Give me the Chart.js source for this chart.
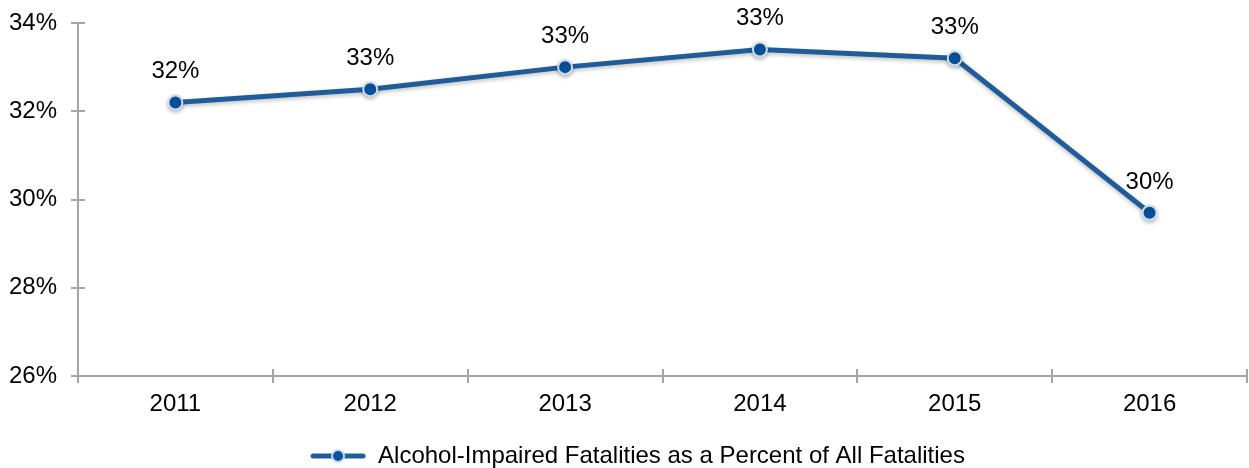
<!DOCTYPE html>
<html>
<head>
<meta charset="utf-8">
<script src="https://cdn.jsdelivr.net/npm/chart.js@4.4.0/dist/chart.umd.min.js"></script>
<style>
  html, body { margin: 0; padding: 0; background: #fff; }
  #wrap { width: 1249px; height: 468px; }
</style>
</head>
<body>
<div id="wrap"><canvas id="fatalitiesChart"></canvas></div>
<script>
const years = ['2011', '2012', '2013', '2014', '2015', '2016'];
const percentValues = [32.2, 32.5, 33.0, 33.4, 33.2, 29.7];
const yTicks = [26, 28, 30, 32, 34];
const seriesLabel = 'Alcohol-Impaired Fatalities as a Percent of All Fatalities';

const lineColor = '#1f5c99';
const pointColor = '#0b529c';
const pointEdge = '#c9ddf2';
const axisColor = '#a6a6a6';
const fontSize = 24;

Chart.defaults.font.family = '"Liberation Sans", Arial, sans-serif';
Chart.defaults.color = '#000';

// legend marker: line with a dot, left part kept blank to nudge the legend right
function makeLegendMarker() {
    const c = document.createElement('canvas');
    c.width = 84;
    c.height = 16;
    const g = c.getContext('2d');
    g.strokeStyle = lineColor;
    g.lineWidth = 5;
    g.lineCap = 'round';
    g.beginPath();
    g.moveTo(31, 8);
    g.lineTo(81, 8);
    g.stroke();
    g.beginPath();
    g.arc(56, 8, 6, 0, Math.PI * 2);
    g.fillStyle = pointColor;
    g.fill();
    g.lineWidth = 2;
    g.strokeStyle = pointEdge;
    g.stroke();
    return c;
}

// Excel-style ticks cross the axis, so draw the inner half here
const innerTicks = {
    id: 'innerTicks',
    afterDraw(chart) {
        const ctx = chart.ctx;
        const area = chart.chartArea;
        const y = chart.scales.y;
        ctx.save();
        ctx.strokeStyle = axisColor;
        ctx.lineWidth = 2;
        ctx.beginPath();
        yTicks.forEach(v => {
            const py = Math.round(y.getPixelForValue(v));
            ctx.moveTo(area.left, py);
            ctx.lineTo(area.left + 7, py);
        });
        for (let i = 0; i <= years.length; i++) {
            const px = Math.round(area.left + (area.right - area.left) * i / years.length);
            ctx.moveTo(px, area.bottom);
            ctx.lineTo(px, area.bottom - 7);
        }
        ctx.stroke();
        ctx.restore();
    }
};

const valueLabels = {
    id: 'valueLabels',
    afterDatasetsDraw(chart) {
        const ctx = chart.ctx;
        const meta = chart.getDatasetMeta(0);
        ctx.save();
        ctx.font = fontSize + 'px "Liberation Sans", Arial, sans-serif';
        ctx.fillStyle = '#000';
        ctx.textAlign = 'center';
        ctx.textBaseline = 'alphabetic';
        meta.data.forEach((pt, i) => {
            ctx.fillText(Math.round(percentValues[i]) + '%', pt.x, pt.y - 24);
        });
        ctx.restore();
    }
};

const lineShadow = {
    id: 'lineShadow',
    beforeDatasetDraw(chart) {
        const ctx = chart.ctx;
        ctx.save();
        ctx.shadowColor = 'rgba(0,0,0,0.25)';
        ctx.shadowBlur = 4;
        ctx.shadowOffsetY = 2;
    },
    afterDatasetDraw(chart) {
        chart.ctx.restore();
    }
};

const ctx = document.getElementById('fatalitiesChart').getContext('2d');
new Chart(ctx, {
    type: 'line',
    data: {
        labels: years,
        datasets: [{
            label: seriesLabel,
            data: percentValues,
            borderColor: lineColor,
            borderWidth: 5,
            pointBackgroundColor: pointColor,
            pointBorderColor: pointEdge,
            pointBorderWidth: 2,
            pointRadius: 7,
            pointStyle: 'circle',
            tension: 0,
            fill: false,
            clip: false
        }]
    },
    options: {
        responsive: true,
        maintainAspectRatio: false,
        animation: false,
        layout: { autoPadding: false, padding: { top: 23, right: 2, left: 0, bottom: -10 } },
        plugins: {
            tooltip: { enabled: false },
            legend: {
                position: 'bottom',
                labels: {
                    usePointStyle: true,
                    pointStyle: makeLegendMarker(),
                    pointStyleWidth: 84,
                    font: { size: fontSize },
                    padding: 1,
                    color: '#000'
                }
            }
        },
        scales: {
            x: {
                offset: true,
                afterFit(axis) {
                    axis.height = 67;
                    axis.paddingLeft = 0;
                    axis.paddingRight = 0;
                },
                border: { color: axisColor, width: 2 },
                grid: {
                    offset: true,
                    drawOnChartArea: false,
                    drawTicks: true,
                    tickLength: 7,
                    color: axisColor,
                    lineWidth: 2
                },
                ticks: { font: { size: fontSize }, color: '#000', padding: 7 }
            },
            y: {
                min: 26,
                max: 34,
                afterFit(axis) {
                    axis.width = 78;
                    axis.paddingTop = 0;
                    axis.paddingBottom = 0;
                },
                afterBuildTicks(axis) {
                    axis.ticks = yTicks.map(v => ({ value: v }));
                },
                border: { color: axisColor, width: 2 },
                grid: {
                    drawOnChartArea: false,
                    drawTicks: true,
                    tickLength: 7,
                    color: axisColor,
                    lineWidth: 2
                },
                ticks: {
                    font: { size: fontSize },
                    color: '#000',
                    padding: 14,
                    callback: v => v + '%'
                }
            }
        }
    },
    plugins: [lineShadow, valueLabels, innerTicks]
});
</script>
</body>
</html>
